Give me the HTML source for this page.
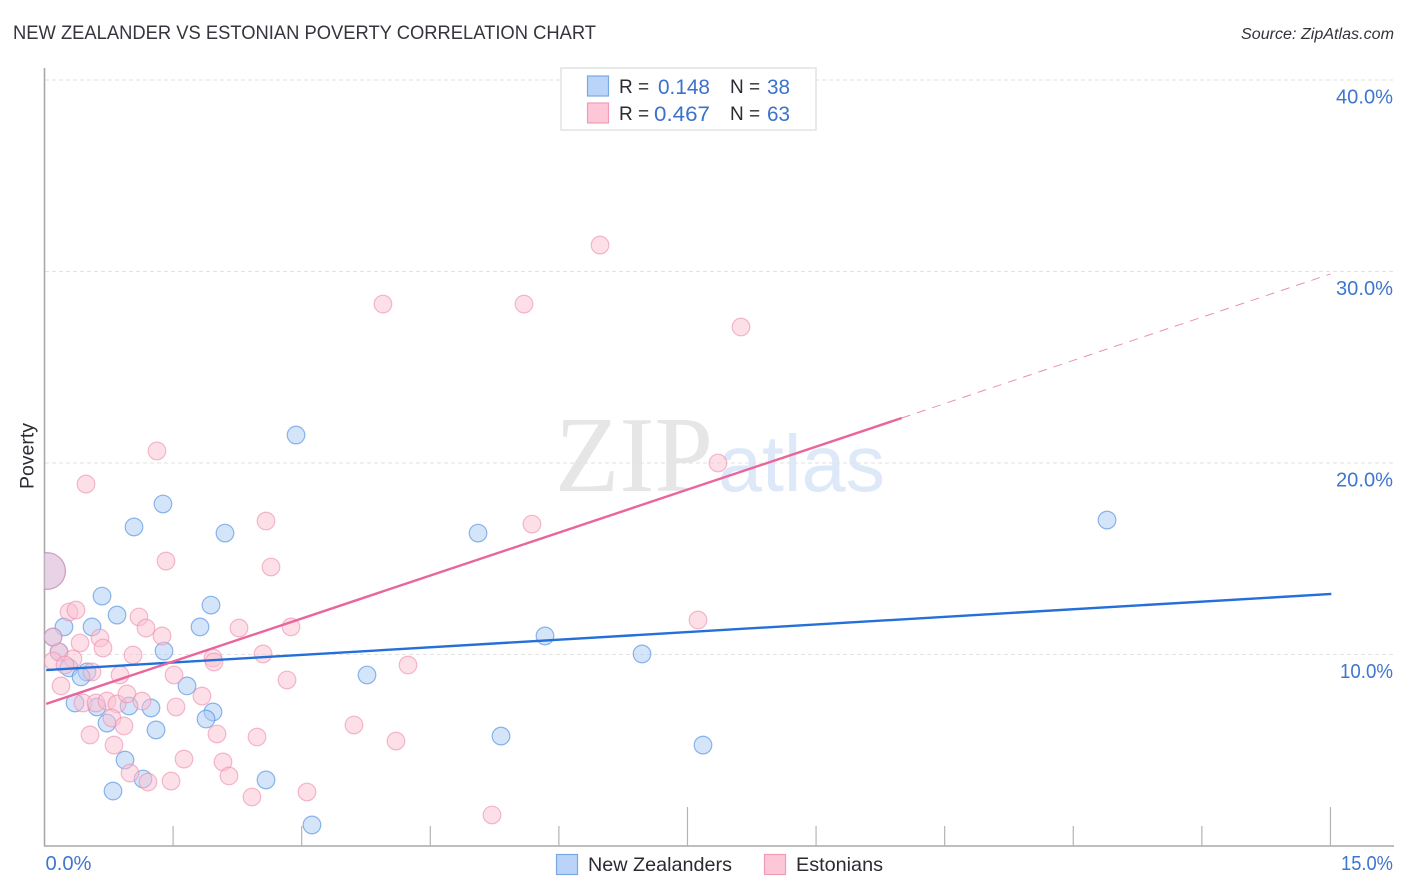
<!DOCTYPE html>
<html lang="en">
<head>
<meta charset="utf-8">
<title>New Zealander vs Estonian Poverty Correlation Chart</title>
<style>
  html, body { margin: 0; padding: 0; background: #fff; }
  svg { display: block; font-family: "Liberation Sans", sans-serif; }
</style>
</head>
<body>
<svg id="chart" xmlns="http://www.w3.org/2000/svg" width="1406" height="892" viewBox="0 0 1406 892">
  <defs>
    <clipPath id="plot-clip"><rect x="44.5" y="60" width="1350" height="786"></rect></clipPath>
  </defs>
  <text x="13" y="39" font-size="19.5" fill="#35353d" textLength="583" lengthAdjust="spacingAndGlyphs">NEW ZEALANDER VS ESTONIAN POVERTY CORRELATION CHART</text>
  <text x="1394" y="39" font-size="15.5" font-style="italic" fill="#33333b" text-anchor="end" textLength="153" lengthAdjust="spacingAndGlyphs">Source: ZipAtlas.com</text>

  <g>
    <text x="555" y="491" font-family="'Liberation Serif', serif" font-size="108" fill="#e6e6e6" textLength="158" lengthAdjust="spacingAndGlyphs">ZIP</text>
    <text x="718" y="491" font-size="80" fill="#dde9f9" textLength="167" lengthAdjust="spacingAndGlyphs">atlas</text>
  </g>

  <g id="grid"></g>
  <g id="y-labels"></g>
  <g id="x-axis"></g>
  <line x1="44.5" y1="68" x2="44.5" y2="846" stroke="#a8a8a8" stroke-width="1.6"></line>
  <text transform="translate(33.5,489) rotate(-90)" font-size="19" fill="#2b2b33" textLength="66" lengthAdjust="spacingAndGlyphs">Poverty</text>

  <g id="points" clip-path="url(#plot-clip)"></g>
  <g id="trends"></g>

  <g>
    <rect x="561" y="68" width="255" height="62" fill="#fff" stroke="#e2e2e2" stroke-width="1.5"></rect>
    <rect x="587.5" y="76" width="21" height="20" fill="#b9d4f8" stroke="#7aa8e2" stroke-width="1.2"></rect>
    <rect x="587.5" y="103" width="21" height="20" fill="#fdc7d8" stroke="#f09cb8" stroke-width="1.2"></rect>
    <text x="619" y="93" font-size="19" fill="#2b2b33">R =</text>
    <text x="658" y="94" font-size="21" fill="#3b72cc" textLength="52" lengthAdjust="spacingAndGlyphs">0.148</text>
    <text x="730" y="93" font-size="19" fill="#2b2b33">N =</text>
    <text x="767" y="94" font-size="21" fill="#3b72cc" textLength="23" lengthAdjust="spacingAndGlyphs">38</text>
    <text x="619" y="120" font-size="19" fill="#2b2b33">R =</text>
    <text x="654" y="121" font-size="21" fill="#3b72cc" textLength="56" lengthAdjust="spacingAndGlyphs">0.467</text>
    <text x="730" y="120" font-size="19" fill="#2b2b33">N =</text>
    <text x="767" y="121" font-size="21" fill="#3b72cc" textLength="23" lengthAdjust="spacingAndGlyphs">63</text>
  </g>

  <g>
    <g>
      <rect x="556.5" y="854.5" width="21" height="20" fill="#b9d4f8" stroke="#7aa8e2" stroke-width="1.2"></rect>
      <text x="588" y="871" font-size="19.5" fill="#2b2b33" textLength="144" lengthAdjust="spacingAndGlyphs">New Zealanders</text>
    </g>
    <g>
      <rect x="764.5" y="854.5" width="21" height="20" fill="#fdc7d8" stroke="#f09cb8" stroke-width="1.2"></rect>
      <text x="796" y="871" font-size="19.5" fill="#2b2b33" textLength="87" lengthAdjust="spacingAndGlyphs">Estonians</text>
    </g>
  </g>
</svg>
<script>
const yTickValues = [10, 20, 30, 40];
const yTickLabels = ["10.0%", "20.0%", "30.0%", "40.0%"];
const xTickValues = [1.5, 3, 4.5, 6, 7.5, 9, 10.5, 12, 13.5, 15];
const xMajorTicks = [7.5, 15];
const xEndValues = [0, 15];
const xEndLabels = ["0.0%", "15.0%"];

const nzX = [2.934, 1.382, 1.044, 2.105, 5.057, 12.394, 0.671, 1.942, 0.846, 0.227, 0.554, 1.814, 0.099, 5.838, 1.394, 6.970, 0.169, 0.286, 0.496, 0.426, 3.762, 1.662, 0.356, 0.612, 0.986, 1.242, 1.965, 1.884, 0.729, 1.301, 5.325, 7.681, 0.939, 1.149, 2.584, 0.799, 3.120];
const nzY = [21.46, 17.86, 16.66, 16.34, 16.34, 17.02, 13.05, 12.58, 12.06, 11.44, 11.44, 11.44, 10.91, 10.97, 10.18, 10.03, 10.13, 9.30, 9.09, 8.83, 8.93, 8.36, 7.47, 7.26, 7.31, 7.21, 7.00, 6.63, 6.42, 6.06, 5.74, 5.27, 4.49, 3.50, 3.45, 2.87, 1.10];

const estX = [1.417, 2.642, 0.286, 0.367, 1.102, 1.184, 1.371, 2.269, 2.875, 0.647, 0.414, 0.682, 1.032, 0.169, 0.099, 0.099, 0.332, 0.239, 0.554, 0.881, 1.965, 1.977, 2.549, 1.511, 2.829, 0.192, 1.837, 0.449, 0.601, 0.729, 0.846, 0.962, 1.137, 1.534, 0.787, 0.927, 2.012, 2.479, 0.531, 0.811, 1.627, 2.082, 2.152, 0.997, 1.207, 1.476, 2.420, 1.312, 0.484, 2.584, 5.686, 3.948, 5.593, 6.480, 8.124, 7.856, 7.623, 4.240, 3.610, 4.100, 3.062, 5.220];
const estY = [14.88, 14.57, 12.22, 12.32, 11.96, 11.38, 10.97, 11.38, 11.44, 10.86, 10.60, 10.34, 9.97, 10.13, 10.91, 9.66, 9.77, 9.45, 9.09, 8.93, 9.82, 9.61, 10.03, 8.93, 8.67, 8.36, 7.83, 7.47, 7.47, 7.57, 7.42, 7.94, 7.57, 7.26, 6.68, 6.27, 5.85, 5.69, 5.80, 5.27, 4.54, 4.39, 3.66, 3.81, 3.34, 3.39, 2.56, 20.63, 18.90, 16.97, 16.81, 28.30, 28.30, 31.38, 27.10, 20.00, 11.80, 9.45, 6.32, 5.48, 2.82, 1.62];

const overlapX = [0.03];
const overlapY = [14.36];

const nzTrendX = [0.02, 15.01];
const nzTrendY = [9.19, 13.16];
const estTrendSolidX = [0.02, 10.0];
const estTrendSolidY = [7.42, 22.35];
const estTrendDashedX = [10.0, 15.0];
const estTrendDashedY = [22.35, 29.87];

const NS = "http://www.w3.org/2000/svg";
function xScale(v) { return 44.5 + v * 85.73; }
function yScale(v) { return 654.5 - (v - 10) * 19.15; }
function make(tag, attrs, parent) {
  const el = document.createElementNS(NS, tag);
  for (const k in attrs) el.setAttribute(k, attrs[k]);
  parent.appendChild(el);
  return el;
}
function labelWidth(text) { return text.charAt(0) === "1" ? 53 : 57; }

const grid = document.getElementById("grid");
const yLabels = document.getElementById("y-labels");
yTickValues.forEach(function (v, i) {
  const y = yScale(v);
  const line = make("line", { x1: 45, x2: 1394, y1: y, y2: y, stroke: "#e2e2e2", "stroke-width": 1, "stroke-dasharray": "4 3" }, grid);
  
  
  const t = make("text", { x: 1393, y: y + 23.5, "font-size": 20, fill: "#3f76cf", "text-anchor": "end", textLength: labelWidth(yTickLabels[i]), lengthAdjust: "spacingAndGlyphs" }, yLabels);
  
  
  t.textContent = yTickLabels[i];
});

const xAxis = document.getElementById("x-axis");
const baseLine = make("line", { x1: 44, x2: 1394, y1: 846, y2: 846, stroke: "#a8a8a8", "stroke-width": 1.6 }, xAxis);


xTickValues.forEach(function (v) {
  const x = xScale(v);
  const isMajor = xMajorTicks.indexOf(v) >= 0;
  const tick = make("line", { x1: x, x2: x, y1: isMajor ? 807 : 826, y2: 846, stroke: "#b4b4b4", "stroke-width": 1.2 }, xAxis);
  
  
});
xEndValues.forEach(function (v, i) {
  const atEnd = i === xEndValues.length - 1;
  const t = make("text", { x: atEnd ? 1393 : xScale(v) + 1, y: 870, "font-size": 20, fill: "#3f76cf", "text-anchor": atEnd ? "end" : "start", textLength: atEnd ? 52 : 46, lengthAdjust: "spacingAndGlyphs" }, xAxis);
  
  
  t.textContent = xEndLabels[i];
});

const pointsG = document.getElementById("points");
const BLUE = { fill: "#a9ccf6", stroke: "#4a8ae0" };
const PINK = { fill: "#fbbfd2", stroke: "#ee8fae" };
function dot(xv, yv, r, c) {
  return make("circle", { cx: xScale(xv), cy: yScale(yv), r: r, fill: c.fill, "fill-opacity": 0.5, stroke: c.stroke, "stroke-opacity": 0.62, "stroke-width": 1.2 }, pointsG);
}
nzX.forEach(function (xv, i) {
  const c = dot(xv, nzY[i], 8.8, BLUE);
  
  
});
overlapX.forEach(function (xv, i) {
  const c = dot(xv, overlapY[i], 18.3, BLUE);
  
  
});
estX.forEach(function (xv, i) {
  const c = dot(xv, estY[i], 8.8, PINK);
  
  
});
overlapX.forEach(function (xv, i) {
  const c = dot(xv, overlapY[i], 18.3, PINK);
  
  
});

const trends = document.getElementById("trends");
const nzLine = make("line", { x1: xScale(nzTrendX[0]), y1: yScale(nzTrendY[0]), x2: xScale(nzTrendX[1]), y2: yScale(nzTrendY[1]), stroke: "#2470d8", "stroke-width": 2.4 }, trends);


const estLine = make("line", { x1: xScale(estTrendSolidX[0]), y1: yScale(estTrendSolidY[0]), x2: xScale(estTrendSolidX[1]), y2: yScale(estTrendSolidY[1]), stroke: "#e9659a", "stroke-width": 2.4 }, trends);


const estDash = make("line", { x1: xScale(estTrendDashedX[0]), y1: yScale(estTrendDashedY[0]), x2: xScale(estTrendDashedX[1]), y2: yScale(estTrendDashedY[1]), stroke: "#ec8fb0", "stroke-width": 1, "stroke-dasharray": "9 7" }, trends);


</script>
</body>
</html>
